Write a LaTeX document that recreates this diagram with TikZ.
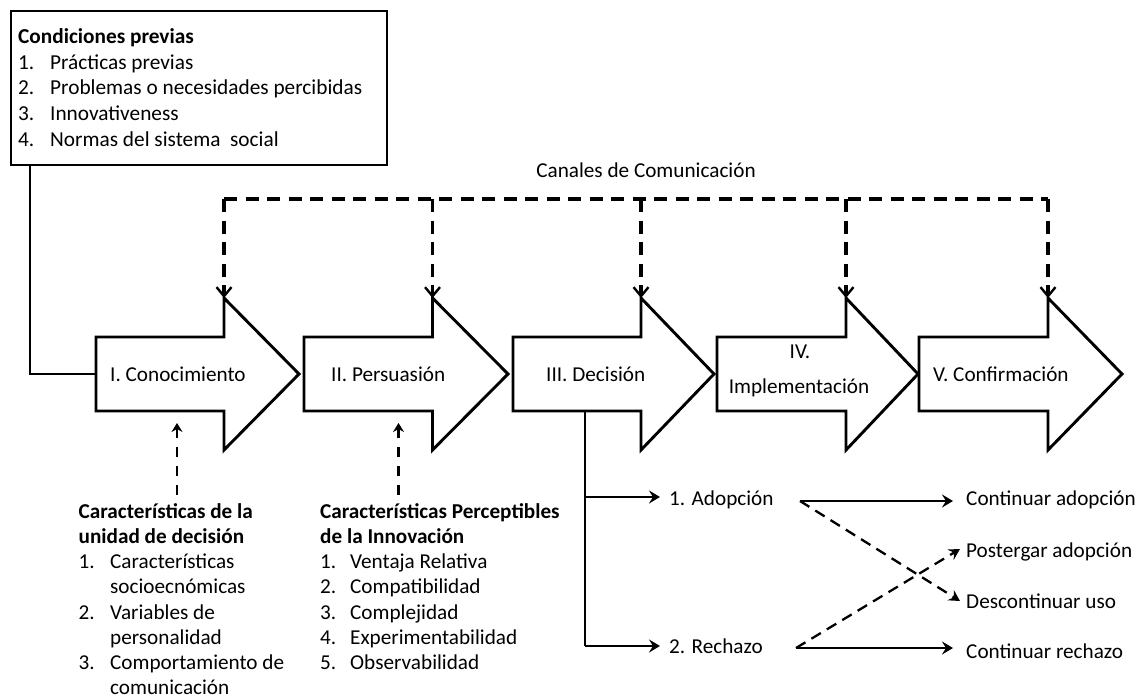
\documentclass[tikz,border=0pt]{standalone}
\usepackage{fontspec}
\setmainfont{Carlito}
\usetikzlibrary{arrows.meta}
\newcommand\blockarr[4]{%
  \draw[blockline] (#2,337) -- (#3,337) -- (#3,298) coordinate (#1-ht)
    -- (#4,374) coordinate (#1-tip) -- (#3,450) -- (#3,411) -- (#2,411) -- cycle;
  \coordinate (#1-w) at (#2,374);}
\begin{document}
\begin{tikzpicture}[x=1pt,y=-1pt,
  every node/.style={font=\fontsize{21.2}{25.2}\selectfont, inner sep=0pt},
  blockline/.style={line width=2.9pt, line join=miter},
  boxline/.style={line width=2pt},
  thinline/.style={line width=1.4pt},
  dashtop/.style={line width=3.1pt, dash pattern=on 13pt off 8.5pt},
  dasharr/.style={dashtop, -{Straight Barb[length=9pt,width=15pt,line width=2.4pt]}},
  dashup/.style={line width=2.6pt, dash pattern=on 10pt off 9pt, -{Stealth[length=9pt,width=11pt,inset=3pt]}},
  solidline/.style={line width=2.2pt},
  solidarr/.style={line width=2.2pt, -{Stealth[length=11pt,width=13pt,inset=4pt]}},
  dashcross/.style={line width=2.3pt, dash pattern=on 11pt off 7pt, -{Stealth[length=11pt,width=12pt,inset=4pt]}}
]
\useasboundingbox (0,0) rectangle (1143,698);
\fill[white] (0,0) rectangle (1143,698);

% Condiciones previas box
\node[draw, boxline, anchor=north west, minimum width=376pt, minimum height=154pt] (prev) at (10,10) {};
\node[anchor=base west] (prevtxt) at (18,43.3) {\fontsize{21.3}{25.8}\selectfont
  \begin{tabular}[t]{@{}p{32pt}@{}l@{}}
  \multicolumn{2}{@{}l@{}}{\bfseries Condiciones previas}\\
  1. & Prácticas previas\\
  2. & Problemas o necesidades percibidas\\
  3. & Innovativeness\\
  4. & Normas del sistema\ \ social
  \end{tabular}};

% block arrows
\blockarr{a1}{96}{224}{299}
\blockarr{a2}{304}{432.5}{508}
\blockarr{a3}{513}{641}{714}
\blockarr{a4}{717}{846}{918}
\blockarr{a5}{919}{1048}{1122}

\node[anchor=base west] (t1) at (110,381.5) {I. Conocimiento};
\node[anchor=base west] (t2) at (331,381.5) {II. Persuasión};
\node[anchor=base west] (t3) at (546,381.5) {III. Decisión};
\node[anchor=base] (t4a) at (800,358.5) {IV.};
\node[anchor=base] (t4b) at (799,393) {Implementación};
\node[anchor=base west] (t5) at (933,381.5) {V. Confirmación};

% connector from box
\coordinate (c0) at (30,164);
\draw[thinline] (c0) |- (a1-w);

% communication channels
\node (canales) at (646,170) {Canales de Comunicación};
\coordinate (top1) at (224,199);
\coordinate (top2) at (432.5,199);
\coordinate (top3) at (641,199);
\coordinate (top4) at (846,199);
\coordinate (top5) at (1048,199);
\draw[dashtop] (top1) -- (top5);
\draw[dasharr] (top1) -- (a1-ht);
\draw[dasharr] (top2) -- (a2-ht);
\draw[dasharr] (top3) -- (a3-ht);
\draw[dasharr] (top4) -- (a4-ht);
\draw[dasharr] (top5) -- (a5-ht);

% upward dashed arrows
\coordinate (u1s) at (177,495);
\coordinate (u1e) at (177,423);
\coordinate (u2s) at (398.5,495);
\coordinate (u2e) at (398.5,423);
\draw[dashup] (u1s) -- (u1e);
\draw[dashup] (u2s) -- (u2e);

% lower lists
\node[anchor=base west] (unidad) at (78.5,518.3) {%
  \begin{tabular}[t]{@{}p{31.5pt}@{}l@{}}
  \multicolumn{2}{@{}l@{}}{\bfseries Características de la}\\
  \multicolumn{2}{@{}l@{}}{\bfseries unidad de decisión}\\
  1. & Características\\
     & socioecnómicas\\
  2. & Variables de\\
     & personalidad\\
  3. & Comportamiento de\\
     & comunicación
  \end{tabular}};
\node[anchor=base west] (innov) at (320,518.3) {%
  \begin{tabular}[t]{@{}p{30pt}@{}l@{}}
  \multicolumn{2}{@{}l@{}}{\bfseries Características Perceptibles}\\
  \multicolumn{2}{@{}l@{}}{\bfseries de la Innovación}\\
  1. & Ventaja Relativa\\
  2. & Compatibilidad\\
  3. & Complejidad\\
  4. & Experimentabilidad\\
  5. & Observabilidad
  \end{tabular}};

% decision branches
\coordinate (b0) at (585,410);
\coordinate (b1) at (585,497);
\coordinate (b2) at (585,646);
\coordinate (b1e) at (660,497);
\coordinate (b2e) at (660,646);
\draw[solidline] (b0) -- (b2);
\draw[solidarr] (b1) -- (b1e);
\draw[solidarr] (b2) -- (b2e);
\node[anchor=base west] (adop) at (669,505) {1. Adopción};
\node[anchor=base west] (rech) at (669,653) {2. Rechazo};

\node[anchor=base west] (o1) at (966,505.5) {Continuar adopción};
\node[anchor=base west] (o2) at (966,557) {Postergar adopción};
\node[anchor=base west] (o3) at (966,608) {Descontinuar uso};
\node[anchor=base west] (o4) at (966,658) {Continuar rechazo};

\coordinate (s1) at (800,501);
\coordinate (e1) at (953,501);
\coordinate (s2) at (796,648);
\coordinate (e2) at (953,648);
\coordinate (d1) at (960,601);
\coordinate (d2) at (960,549);
\draw[solidarr] (s1) -- (e1);
\draw[solidarr] (s2) -- (e2);
\draw[dashcross] (s1) -- (d1);
\draw[dashcross] (s2) -- (d2);
\end{tikzpicture}
\end{document}
